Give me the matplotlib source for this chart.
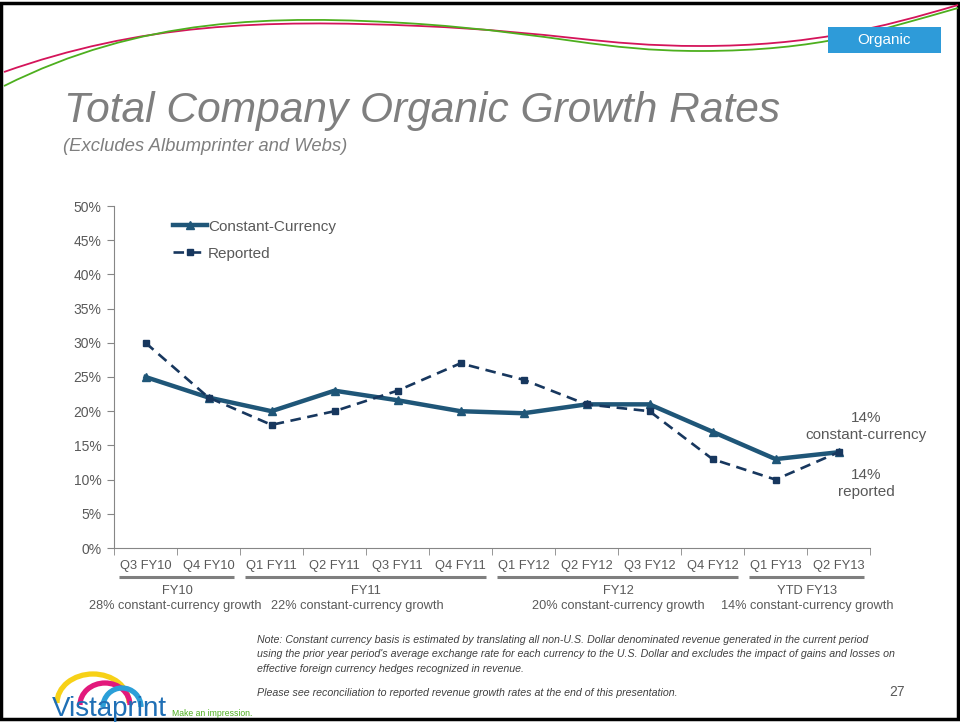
import numpy as np
import matplotlib
matplotlib.use("Agg")
import matplotlib.pyplot as plt
from matplotlib.path import Path
import matplotlib.patches as mpatches
from matplotlib.transforms import blended_transform_factory

plt.rcParams['font.family'] = ['Liberation Sans', 'DejaVu Sans']

# Data
quarters = ['Q3 FY10', 'Q4 FY10', 'Q1 FY11', 'Q2 FY11', 'Q3 FY11', 'Q4 FY11',
            'Q1 FY12', 'Q2 FY12', 'Q3 FY12', 'Q4 FY12', 'Q1 FY13', 'Q2 FY13']
constant_currency = [25, 22, 20, 23, 21.6, 20, 19.7, 21, 21, 17, 13, 14]
reported = [30, 22, 18, 20, 23, 27, 24.6, 21, 20, 13, 10, 14]

groups = ['FY10', 'FY11', 'FY12', 'YTD FY13']
group_growth = ['28% constant-currency growth', '22% constant-currency growth',
                '20% constant-currency growth', '14% constant-currency growth']
group_start = [0, 2, 6, 10]
group_end = [1, 5, 9, 11]

GRAY = '#595959'
CC_COLOR = '#1F5678'
REP_COLOR = '#17375E'

W, H = 960, 723
fig = plt.figure(figsize=(W / 100, H / 100), dpi=100)


def fx(px):
    return px / W


def fy(py):
    return 1 - py / H


# frame
fig.patches.append(mpatches.Rectangle((fx(1), fy(719)), fx(957), 718 / H - 1.5 / H,
                                      transform=fig.transFigure, fill=False,
                                      edgecolor='black', linewidth=2.5))

# decorative header curves (bezier swoosh)
def swoosh(pts, color):
    codes = [Path.MOVETO] + [Path.CURVE4] * (len(pts) - 1)
    verts = [(fx(x), fy(y)) for x, y in pts]
    fig.patches.append(mpatches.PathPatch(Path(verts, codes), transform=fig.transFigure,
                                          fill=False, edgecolor=color, linewidth=1.3))

swoosh([(4, 72), (140, 24), (260, 19), (420, 26),
        (560, 32), (600, 46), (700, 46),
        (810, 46), (880, 28), (958, 5)], '#D4145A')
swoosh([(4, 86), (140, 18), (270, 14), (420, 24),
        (560, 34), (600, 51), (700, 51),
        (820, 51), (880, 30), (958, 8)], '#4DAF1E')

# Organic tag
fig.patches.append(mpatches.Rectangle((fx(828), fy(53)), fx(113), 26 / H,
                                      transform=fig.transFigure, facecolor='#2E9BD9',
                                      edgecolor='none'))
fig.text(fx(884), fy(40), 'Organic', color='white', fontsize=11, ha='center', va='center')

# Titles
fig.text(fx(64), fy(122), 'Total Company Organic Growth Rates', fontsize=30.6,
         style='italic', color='#7F7F7F', ha='left', va='baseline')
fig.text(fx(63), fy(151), '(Excludes Albumprinter and Webs)', fontsize=13.3,
         style='italic', color='#7F7F7F', ha='left', va='baseline')

# Main chart
ax = fig.add_axes([fx(114), fy(548), (870 - 114) / W, (548 - 206) / H])
x = np.arange(len(quarters))
ax.plot(x, constant_currency, color=CC_COLOR, linewidth=3.2, marker='^',
        markersize=6, label='Constant-Currency')
ax.plot(x, reported, color=REP_COLOR, linewidth=1.9, linestyle=(0, (4, 2.5)),
        marker='s', markersize=4, label='Reported')

ax.set_xlim(-0.5, len(quarters) - 0.5)
ax.set_ylim(0, 50)
ax.set_yticks(np.arange(0, 51, 5))
ax.set_yticklabels([f'{v}%' for v in range(0, 51, 5)])
ax.set_xticks(x)
ax.set_xticklabels(quarters)
ax.set_xticks(np.arange(-0.5, len(quarters)), minor=True)
ax.tick_params(axis='x', which='major', length=0, pad=9, labelsize=9.3, labelcolor=GRAY)
ax.tick_params(axis='x', which='minor', length=5, color='#868686')
ax.tick_params(axis='y', length=5, color='#868686', labelsize=10, labelcolor=GRAY, pad=4)
for side in ['top', 'right']:
    ax.spines[side].set_visible(False)
for side in ['left', 'bottom']:
    ax.spines[side].set_color('#868686')

leg = ax.legend(loc='upper left', bbox_to_anchor=(0.06, 1.0), frameon=False,
                fontsize=11, handlelength=2.2, handletextpad=0.1, labelspacing=0.85)
for t in leg.get_texts():
    t.set_color(GRAY)

# end labels
ax.text(11.44, 17.8, '14%\nconstant-currency', ha='center', va='center', fontsize=11,
        color=GRAY, linespacing=1.3, clip_on=False)
ax.text(11.44, 9.4, '14%\nreported', ha='center', va='center', fontsize=11,
        color=GRAY, linespacing=1.3, clip_on=False)

# fiscal year groups under the axis
trans = blended_transform_factory(ax.transData, ax.transAxes)
growth_shift = [-0.03, -0.13, 0.0, 0.0]
for name, growth, s, e, dx in zip(groups, group_growth, group_start, group_end, growth_shift):
    ax.plot([s - 0.42, e + 0.4], [-0.085, -0.085], transform=trans, color='#7F7F7F',
            linewidth=2.2, clip_on=False, solid_capstyle='butt')
    c = (s + e) / 2
    ax.text(c, -0.126, name, transform=trans, ha='center', va='center', fontsize=9.3,
            color=GRAY)
    ax.text(c + dx, -0.17, growth, transform=trans, ha='center', va='center',
            fontsize=9.2, color=GRAY)

# footnote
note = ("Note: Constant currency basis is estimated by translating all non-U.S. Dollar "
        "denominated revenue generated in the current period\n"
        "using the prior year period's average exchange rate for each currency to the U.S. "
        "Dollar and excludes the impact of gains and losses on\n"
        "effective foreign currency hedges recognized in revenue.")
fig.text(fx(257), fy(635), note, fontsize=7.65, style='italic', color='#404040',
         ha='left', va='top', linespacing=1.55)
fig.text(fx(257), fy(693), 'Please see reconciliation to reported revenue growth rates '
         'at the end of this presentation.', fontsize=7.65, style='italic',
         color='#404040', ha='left', va='center')
fig.text(fx(897), fy(692), '27', fontsize=10, color=GRAY, ha='center', va='center')

# logo
for cx, cy, w, h, col in [(93, 703, 72, 58, '#F7D117'), (105, 705, 50, 44, '#E2197C'),
                          (122, 707, 38, 38, '#2B9FD8')]:
    fig.patches.append(mpatches.Arc((fx(cx), fy(cy)), w / W, h / H,
                                    theta1=0, theta2=180, transform=fig.transFigure,
                                    color=col, linewidth=3.8))
fig.text(fx(52), fy(716), 'Vistaprint', fontsize=20, color='#1F6FB5',
         ha='left', va='baseline', zorder=5,
         bbox=dict(boxstyle='square,pad=0', facecolor='none', edgecolor='none'))
fig.text(fx(172), fy(716), 'Make an impression.', fontsize=6.2, color='#4DAF1E',
         ha='left', va='baseline')

fig.savefig('out.png', dpi=100)
